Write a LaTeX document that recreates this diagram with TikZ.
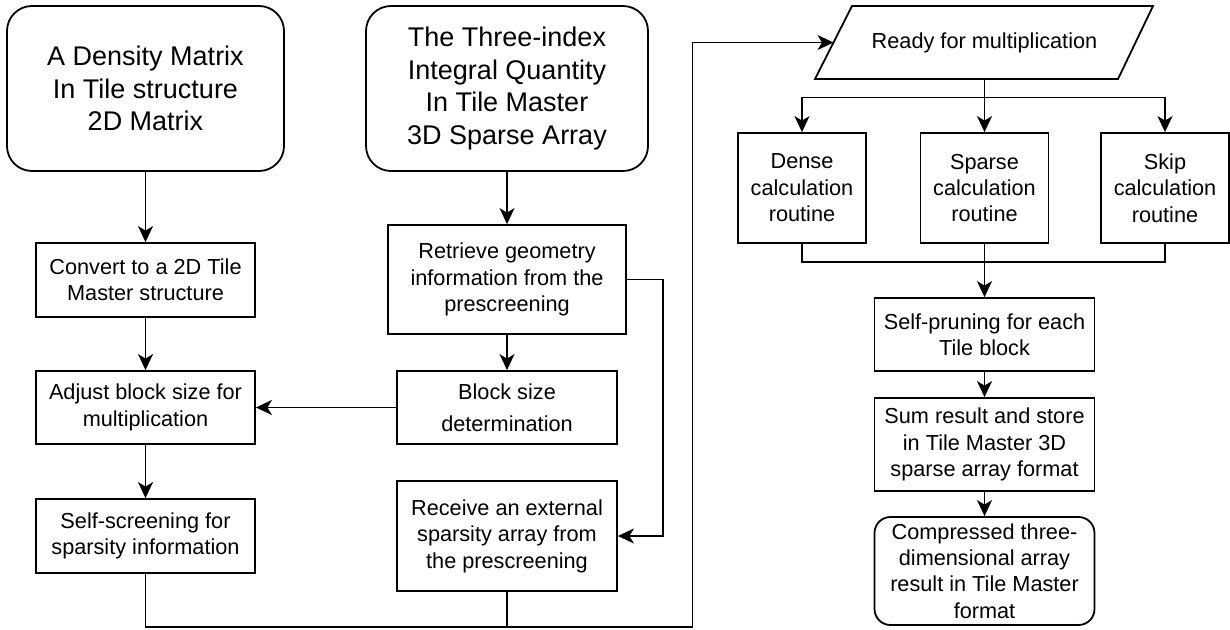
\documentclass[tikz,border=0pt]{standalone}
\usepackage{fontspec}
\setmainfont{Liberation Sans}
\usetikzlibrary{arrows.meta}

\begin{document}
\begin{tikzpicture}[x=1pt, y=-1pt, line width=1.8pt,
  box/.style={draw, rectangle, align=center, inner sep=0pt,
    font=\fontsize{21.7}{26.4}\selectfont},
  start/.style={draw, rectangle, rounded corners=25pt, align=center, inner sep=0pt,
    font=\fontsize{27}{32.5}\selectfont},
  finish/.style={box, rounded corners=16pt},
  flow/.style={-{Stealth[length=16pt, width=15pt, inset=4.5pt]}},
]
\useasboundingbox (0,0) rectangle (1230,629);

% left column: density matrix branch
\node[start, minimum width=277pt, minimum height=165pt] (dens) at (145.5,88.5)
  {A Density Matrix\\In Tile structure\\2D Matrix};
\node[box, minimum width=219pt, minimum height=74pt] (conv) at (145.5,280)
  {Convert to a 2D Tile\\Master structure};
\node[box, minimum width=219pt, minimum height=73pt] (adj) at (145.5,407.5)
  {Adjust block size for\\multiplication};
\node[box, minimum width=219pt, minimum height=74pt] (selfscr) at (145.5,536)
  {Self-screening for\\sparsity information};

% middle column: three-index integral branch
\node[start, minimum width=282pt, minimum height=165pt] (tri) at (507,88.5)
  {The Three-index\\Integral Quantity\\In Tile Master\\3D Sparse Array};
\node[box, minimum width=238pt, minimum height=109pt] (retr) at (507,279.5)
  {Retrieve geometry\\information from the\\prescreening};
\node[box, minimum width=220pt, minimum height=73pt] (blk) at (507,407.5)
  {Block size\\[5.5pt]determination};
\node[box, minimum width=220pt, minimum height=110pt] (recv) at (507,536)
  {Receive an external\\sparsity array from\\the prescreening};

% right column: multiplication
\node[font=\fontsize{21.7}{26.4}\selectfont, inner sep=0pt] (ready) at (984.5,42.5)
  {Ready for multiplication};
\draw (815,79) -- (852,6) -- (1153,6) -- (1118,79) -- cycle;
\coordinate (readyin) at (833.5,42.5);
\coordinate (readyout) at (984.5,79);

\node[box, minimum width=128pt, minimum height=110pt] (dense) at (802,188)
  {Dense\\calculation\\routine};
\node[box, minimum width=128pt, minimum height=110pt] (sparse) at (984.5,188)
  {Sparse\\calculation\\routine};
\node[box, minimum width=128pt, minimum height=110pt] (skip) at (1165,188)
  {Skip\\calculation\\routine};
\node[box, minimum width=220pt, minimum height=73pt] (prune) at (984.5,334.5)
  {Self-pruning for each\\Tile block};
\node[box, minimum width=220pt, minimum height=93pt] (sum) at (984.5,444.5)
  {Sum result and store\\in Tile Master 3D\\sparse array format};
\node[finish, minimum width=220pt, minimum height=108pt] (comp) at (984.5,571)
  {Compressed three-\\dimensional array\\result in Tile Master\\format};

% connectors, left and middle columns
\draw[flow] (dens.south) -- (conv.north);
\draw[flow] (conv) -- (adj);
\draw[flow] (adj) -- (selfscr);
\draw[flow] (tri.south) -- (retr.north);
\draw[flow] (retr) -- (blk);
\draw[flow] (blk.west) -- (adj.east);
\draw[flow] (retr.east) -- ++(36,0) |- (recv.east);

% both branches merge and lead to the multiplication step
\coordinate (merge) at (507,627);
\draw (recv.south) -- (merge);
\draw[flow] (selfscr.south) -- (145.5,627) -- (692.5,627)
  -- (692.5,42.5) -- (readyin);

% fan out to the three routines
\coordinate (fan) at (984.5,97.5);
\draw[flow] (readyout) -- (sparse.north);
\draw[flow] (fan) -| (dense.north);
\draw[flow] (fan) -| (skip.north);

% fan in
\coordinate (join) at (984.5,262);
\draw (dense.south) |- (join);
\draw (skip.south) |- (join);
\draw[flow] (sparse.south) -- (prune.north);
\draw[flow] (prune) -- (sum);
\draw[flow] (sum) -- (comp);
\end{tikzpicture}
\end{document}
